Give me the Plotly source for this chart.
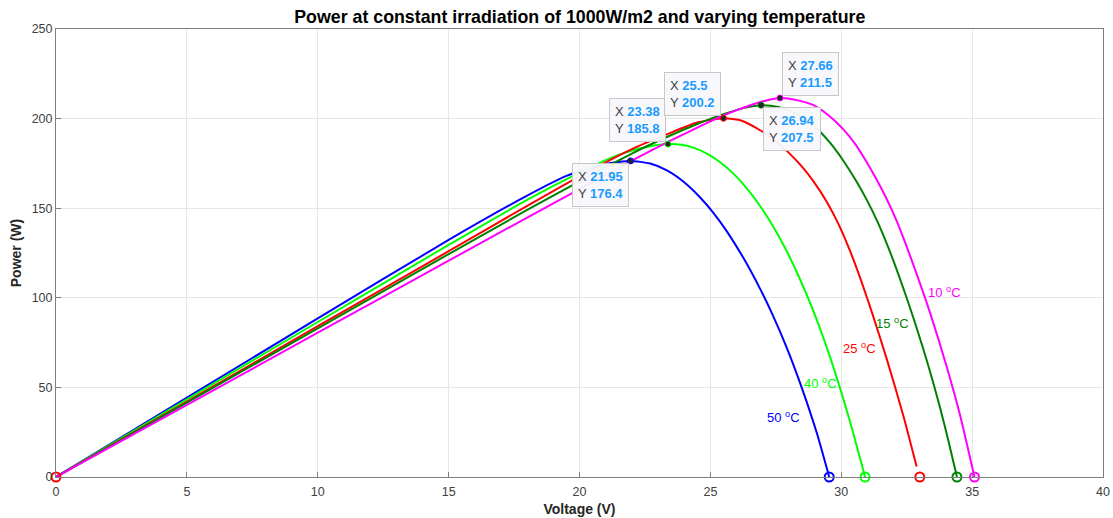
import plotly.graph_objects as go

# ---- data ----
v_50 = [0, 5, 10, 15, 18, 19.5, 20, 21, 21.95, 22.7, 23.34, 24.0, 24.61, 25.1, 25.63, 26.26, 26.9, 27.4, 27.92, 28.5, 29.07, 29.54]
p_50 = [0, 44.3, 88.5, 132.3, 157.0, 168.0, 170.6, 174.8, 176.4, 174.9, 171.1, 164.5, 156.0, 147.7, 137.1, 122.3, 105.0, 89.8, 72.1, 49.5, 24.4, 0]

v_40 = [0, 5, 10, 15, 18, 20, 21, 22, 22.7, 23.38, 23.9, 24.4, 24.9, 25.4, 25.9, 26.4, 26.9, 27.4, 27.9, 28.4, 28.9, 29.4, 29.9, 30.4, 30.91]
p_40 = [0, 43.3, 86.5, 129.5, 154.6, 169.8, 176.8, 182.2, 184.6, 185.8, 185.4, 183.5, 180.2, 175.4, 169.0, 160.9, 151.2, 139.8, 126.5, 111.2, 93.9, 74.3, 52.2, 27.5, 0]

v_25 = [0, 5, 10, 15, 18, 20, 22, 23.38, 24.5, 25.5, 26.2, 26.9, 27.4, 27.92, 28.45, 28.94, 29.45, 29.9, 30.34, 30.75, 31.2, 31.74, 32.38, 32.88]
p_25 = [0, 42.1, 84.2, 126.0, 151.3, 167.8, 183.0, 191.5, 197.8, 200.2, 198.8, 193.5, 188.5, 182.0, 174.0, 165.0, 153.5, 141.0, 126.0, 110.0, 90.6, 65.8, 33.8, 5.8]

v_15 = [0, 5, 10, 15, 18, 20, 22, 23.38, 24.5, 25.5, 26.3, 26.94, 27.6, 28.3, 29.0, 29.6, 30.08, 30.6, 30.98, 31.4, 31.8, 32.2, 32.64, 33.27, 33.78, 34.1, 34.42]
p_15 = [0, 41.5, 83.0, 124.4, 149.0, 165.0, 180.5, 190.0, 197.0, 202.5, 206.0, 207.5, 206.5, 202.5, 195.5, 186.0, 176.5, 164.5, 154.5, 142.0, 128.0, 112.4, 93.9, 64.9, 38.4, 19.8, 0]

v_10 = [0, 5, 10, 15, 18, 20, 22, 23.38, 24.5, 25.5, 26.5, 27.1, 27.66, 28.3, 28.94, 29.5, 30.08, 30.55, 30.98, 31.35, 31.74, 32.1, 32.45, 32.89, 33.4, 34.04, 34.54, 35.09]
p_10 = [0, 40.2, 80.5, 120.7, 144.8, 160.7, 176.6, 187.0, 195.0, 201.8, 207.3, 210.0, 211.5, 210.3, 207.5, 202.0, 194.0, 185.5, 175.5, 166.0, 155.0, 143.5, 130.5, 112.9, 91.3, 61.0, 34.5, 0]

voc_v = [29.54, 30.91, 33.0, 34.42, 35.09]
voc_p = [0, 0, 0, 0, 0]

mpp_v = [21.95, 23.38, 25.5, 26.94, 27.66]
mpp_p = [176.4, 185.8, 200.2, 207.5, 211.5]

temps = ["50", "40", "25", "15", "10"]
label_v = [27.79, 29.19, 30.71, 31.96, 33.93]
label_p = [33.6, 52.3, 71.8, 85.8, 103.4]

colors = ["#0000ff", "#00ff00", "#ff0000", "#008000", "#ff00ff"]
series_v = [v_50, v_40, v_25, v_15, v_10]
series_p = [p_50, p_40, p_25, p_15, p_10]

FONT = "Liberation Sans, Arial, Helvetica, sans-serif"

fig = go.Figure()

for v, p, c, t in zip(series_v, series_p, colors, temps):
    fig.add_trace(go.Scatter(x=v, y=p, mode="lines", line=dict(color=c, width=2, shape="spline", smoothing=0.6),
                             name=t + " C", showlegend=False, hoverinfo="skip"))

# Voc markers
fig.add_trace(go.Scatter(x=voc_v, y=voc_p, mode="markers",
                         marker=dict(symbol="circle-open", size=9, color=colors, line=dict(width=2, color=colors)),
                         showlegend=False, hoverinfo="skip", cliponaxis=False))
# origin marker
fig.add_trace(go.Scatter(x=[0], y=[0], mode="markers",
                         marker=dict(symbol="circle-open", size=9, color="#ff0000", line=dict(width=2, color="#ff0000")),
                         showlegend=False, hoverinfo="skip", cliponaxis=False))
# data-tip markers
fig.add_trace(go.Scatter(x=mpp_v, y=mpp_p, mode="markers",
                         marker=dict(symbol="circle", size=6, color="#262626", line=dict(width=1, color=colors)),
                         showlegend=False, hoverinfo="skip"))

annotations = []
# curve labels
for t, lv, lp, c in zip(temps, label_v, label_p, colors):
    annotations.append(dict(x=lv, y=lp, xref="x", yref="y", showarrow=False,
                            text=t + " <sup>o</sup>C", font=dict(family=FONT, size=13, color=c)))

# data tips: anchor corner at point
anchors = [("right", "top"), ("right", "bottom"), ("right", "bottom"), ("left", "top"), ("left", "bottom")]
for mv, mp, (xa, ya) in zip(mpp_v, mpp_p, anchors):
    txt = ("X <span style='color:#1a9bff'><b>%s</b></span><br>Y <span style='color:#1a9bff'><b>%s</b></span>"
           % (("%g" % mv), ("%g" % mp)))
    annotations.append(dict(x=mv, y=mp, xref="x", yref="y", showarrow=False, text=txt, align="left",
                            xanchor=xa, yanchor=ya,
                            xshift=(-2 if xa == "right" else 2), yshift=(2 if ya == "bottom" else -2),
                            font=dict(family=FONT, size=13, color="#404040"),
                            bgcolor="rgba(248,248,252,0.95)", bordercolor="#c8c8c8", borderwidth=1, borderpad=5))

fig.update_layout(
    width=1113, height=518,
    margin=dict(l=56, r=10, t=29, b=41, autoexpand=False),
    paper_bgcolor="white", plot_bgcolor="white",
    title=dict(text="<b>Power at constant irradiation of 1000W/m2 and varying temperature</b>",
               x=0.5209, xanchor="center", y=0.967, yanchor="middle",
               font=dict(family=FONT, size=17.8, color="#000000")),
    annotations=annotations,
    font=dict(family=FONT, size=12, color="#404040"),
)

fig.update_xaxes(range=[0, 40], tickvals=[0, 5, 10, 15, 20, 25, 30, 35, 40], showgrid=True, automargin=False,
                 gridcolor="#e6e6e6", gridwidth=1, zeroline=False,
                 showline=True, linecolor="#7f7f7f", linewidth=1, mirror=True,
                 ticks="inside", ticklen=5, tickcolor="#7f7f7f", ticklabelstandoff=3,
                 tickfont=dict(family=FONT, size=12.5, color="#404040"),
                 title=dict(text="<b>Voltage (V)</b>", font=dict(family=FONT, size=14, color="#262626"), standoff=6))
fig.update_yaxes(range=[0, 250], tickvals=[0, 50, 100, 150, 200, 250], showgrid=True, automargin=False,
                 gridcolor="#e6e6e6", gridwidth=1, zeroline=False,
                 showline=True, linecolor="#7f7f7f", linewidth=1, mirror=True,
                 ticks="inside", ticklen=5, tickcolor="#7f7f7f",
                 tickfont=dict(family=FONT, size=12.5, color="#404040"),
                 title=dict(text="<b>Power (W)</b>", font=dict(family=FONT, size=14, color="#262626"), standoff=6))

fig.write_html("out.html")
